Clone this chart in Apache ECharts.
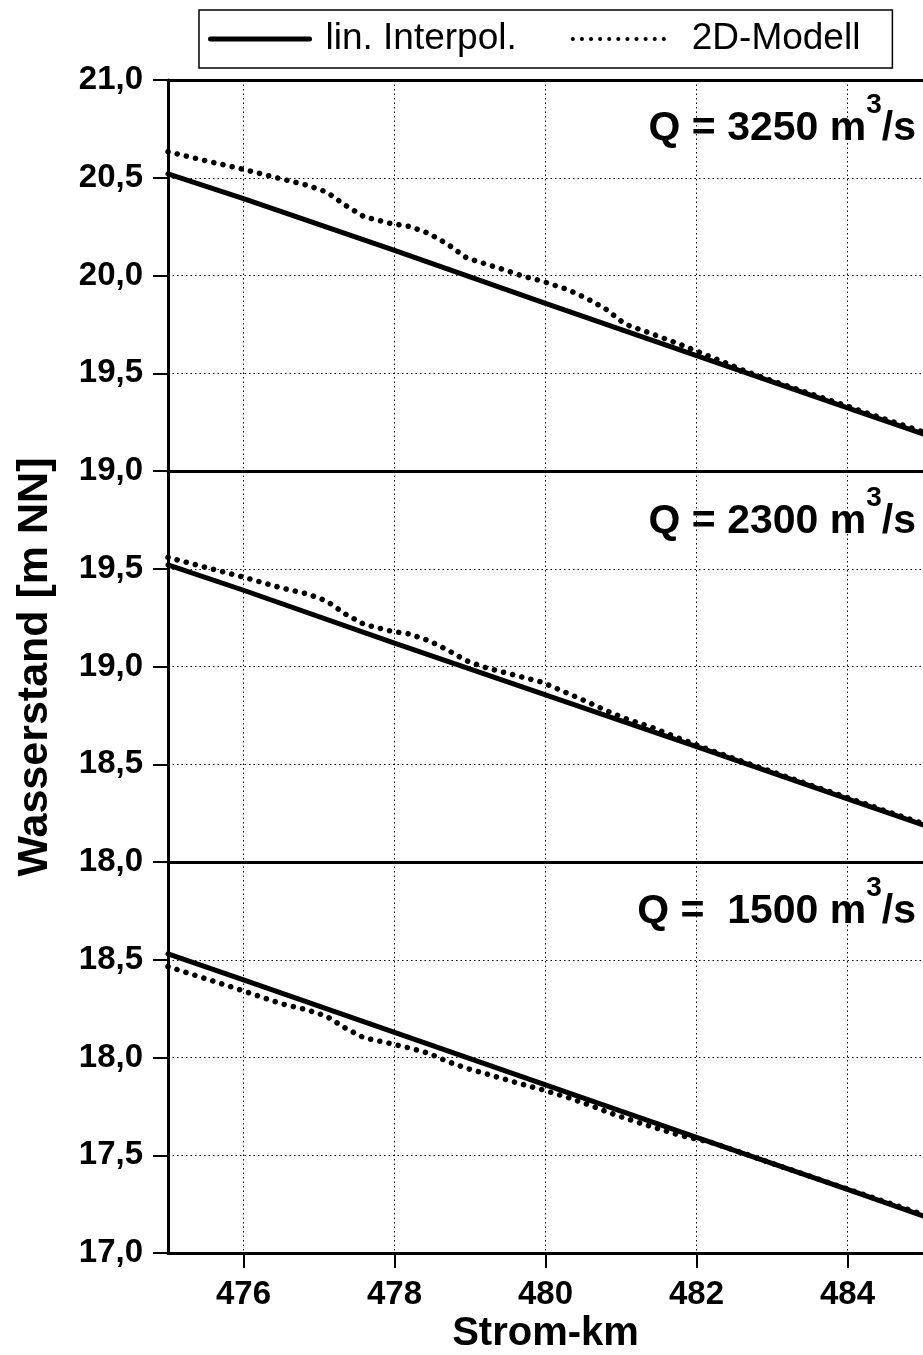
<!DOCTYPE html>
<html>
<head>
<meta charset="utf-8">
<script src="https://cdn.jsdelivr.net/npm/echarts@6/dist/echarts.min.js"></script>
<style>
html,body{margin:0;padding:0;background:#fff;}
#chart{width:923px;height:1355px;}
</style>
</head>
<body>
<div id="chart"></div>
<script>
// ---------- data ----------
const seriesNames = ['lin. Interpol.', '2D-Modell'];
const panelLabels = ['Q = 3250 m', 'Q = 2300 m', 'Q =  1500 m'];
const panelMins = [19, 18, 17];
const xTicks = [476, 478, 480, 482, 484];

// linear interpolation (solid)
const kmSolid = [475, 476, 478, 480, 482, 484, 485];
const solid3250 = [20.52, 20.393, 20.128, 19.857, 19.59, 19.323, 19.19];
const solid2300 = [19.52, 19.39, 19.12, 18.855, 18.59, 18.323, 18.19];
const solid1500 = [18.53, 18.397, 18.128, 17.86, 17.592, 17.325, 17.19];

// 2D model (dotted)
const kmModel = [475.0, 475.5, 476.0, 476.5, 476.85, 477.1, 477.35, 477.6, 477.95, 478.2,
                 478.45, 478.7, 478.95, 479.2, 479.45, 479.7, 479.95, 480.3, 480.55, 480.8,
                 481.05, 481.4, 481.8, 482.2, 482.7, 483.0, 483.5, 484.0, 484.5, 485.0];
const model3250 = [20.633, 20.587, 20.543, 20.494, 20.461, 20.427, 20.359, 20.300, 20.266, 20.251,
                   20.216, 20.161, 20.091, 20.060, 20.030, 19.997, 19.972, 19.927, 19.882, 19.828,
                   19.752, 19.703, 19.645, 19.582, 19.503, 19.462, 19.396, 19.331, 19.265, 19.200];
const model2300 = [19.558, 19.507, 19.457, 19.402, 19.371, 19.335, 19.268, 19.215, 19.181, 19.166,
                   19.133, 19.085, 19.030, 18.995, 18.970, 18.945, 18.920, 18.862, 18.820, 18.775,
                   18.735, 18.690, 18.628, 18.570, 18.502, 18.462, 18.395, 18.329, 18.262, 18.196];
const model1500 = [18.465, 18.403, 18.341, 18.275, 18.243, 18.211, 18.150, 18.100, 18.071, 18.048,
                   18.022, 17.980, 17.945, 17.918, 17.890, 17.862, 17.836, 17.795, 17.762, 17.724,
                   17.690, 17.647, 17.600, 17.565, 17.500, 17.458, 17.393, 17.327, 17.262, 17.197];

const solidSets = [solid3250, solid2300, solid1500];
const modelSets = [model3250, model2300, model1500];

// ---------- chart ----------
const FONT = '"Liberation Sans", Arial, sans-serif';
const GRID_TOP = 80, GRID_H = 391, GRID_LEFT = 168;
const zip = (xs, ys) => xs.map((x, i) => [x, ys[i]]);
const gridDot = { color: '#000', width: 1, type: [1.5, 3] };

const grids = [0, 1, 2].map(i => ({
  left: GRID_LEFT, right: -2, top: GRID_TOP + GRID_H * i, height: GRID_H
}));

const xAxes = [0, 1, 2].map(i => ({
  gridIndex: i, type: 'value', min: 475, max: 485,
  axisLine: { show: true, onZero: false, lineStyle: { color: '#000', width: 3 } },
  axisTick: { show: i === 2, inside: false, length: 15, customValues: xTicks,
              lineStyle: { color: '#000', width: 2 } },
  axisLabel: { show: i === 2, customValues: xTicks, margin: 25, fontSize: 33,
               fontWeight: 'bold', color: '#000', fontFamily: FONT },
  splitLine: { show: true, lineStyle: gridDot },
  name: i === 2 ? 'Strom-km' : '', nameLocation: 'middle', nameGap: 61,
  nameTextStyle: { fontSize: 40, fontWeight: 'bold', color: '#000', fontFamily: FONT }
}));
xAxes.push({
  gridIndex: 0, type: 'value', min: 475, max: 485, position: 'top',
  axisLine: { show: true, onZero: false, lineStyle: { color: '#000', width: 3 } },
  axisTick: { show: false }, axisLabel: { show: false }, splitLine: { show: false }
});

const yAxes = [0, 1, 2].map(i => ({
  gridIndex: i, type: 'value', min: panelMins[i], max: panelMins[i] + 2, interval: 0.5,
  axisLine: { show: true, lineStyle: { color: '#000', width: 3 } },
  axisTick: { show: true, inside: false, length: 15, lineStyle: { color: '#000', width: 2 } },
  axisLabel: { margin: 25, fontSize: 33, fontWeight: 'bold', color: '#000', fontFamily: FONT,
               showMaxLabel: i === 0, showMinLabel: true,
               formatter: v => v.toFixed(1).replace('.', ',') },
  splitLine: { show: true, lineStyle: gridDot }
}));

const series = [];
[0, 1, 2].forEach(i => {
  series.push({
    name: seriesNames[0], type: 'line', xAxisIndex: i, yAxisIndex: i,
    data: zip(kmSolid, solidSets[i]), symbol: 'none', silent: true,
    itemStyle: { color: '#000' },
    lineStyle: { color: '#000', width: 5, type: 'solid', cap: 'round' }
  });
  series.push({
    name: seriesNames[1], type: 'line', xAxisIndex: i, yAxisIndex: i,
    data: zip(kmModel, modelSets[i]), symbol: 'none', silent: true,
    itemStyle: { color: '#000' },
    lineStyle: { color: '#000', width: 5.5, type: [0.1, 9.3], cap: 'round' }
  });
});

const qCenters = [128.8, 521.7, 911.7];
const graphics = panelLabels.map((t, i) => ({
  type: 'text', x: 916, y: qCenters[i] - 37.5, silent: true,
  style: {
    text: '{a|' + t + '}{s|3}{a|/s}',
    align: 'right', verticalAlign: 'top',
    rich: {
      a: { fontSize: 41, fontWeight: 'bold', fontFamily: FONT, fill: '#000', lineHeight: 75, verticalAlign: 'middle' },
      s: { fontSize: 28, fontWeight: 'bold', fontFamily: FONT, fill: '#000', lineHeight: 28, verticalAlign: 'top' }
    }
  }
}));
graphics.push({
  type: 'text', x: 35, y: 667, rotation: Math.PI / 2, silent: true,
  style: { text: 'Wasserstand [m NN]', fontSize: 43, fontWeight: 'bold', fontFamily: FONT,
           fill: '#000', align: 'center', verticalAlign: 'middle' }
});

const chart = echarts.init(document.getElementById('chart'), null, { renderer: 'canvas' });
chart.setOption({
  animation: false,
  backgroundColor: '#fff',
  grid: grids,
  xAxis: xAxes,
  yAxis: yAxes,
  legend: {
    left: 199, top: 10, itemWidth: 99, itemHeight: 14, itemGap: 54,
    padding: [9, 32, 9, 9], borderColor: '#000', borderWidth: 1.5,
    textStyle: { fontSize: 37, color: '#000', fontFamily: FONT, lineHeight: 40 },
    itemStyle: { opacity: 0 },
    data: [
      { name: seriesNames[0], itemStyle: { opacity: 0 },
        lineStyle: { width: 5, type: 'solid', cap: 'round', color: '#000' },
        textStyle: { padding: [0, 0, 0, 11] } },
      { name: seriesNames[1], itemStyle: { opacity: 0 },
        lineStyle: { width: 4, type: [0.1, 9], cap: 'round', color: '#000' },
        textStyle: { padding: [0, 0, 0, 15] } }
    ]
  },
  graphic: graphics,
  series: series
});
</script>
</body>
</html>
